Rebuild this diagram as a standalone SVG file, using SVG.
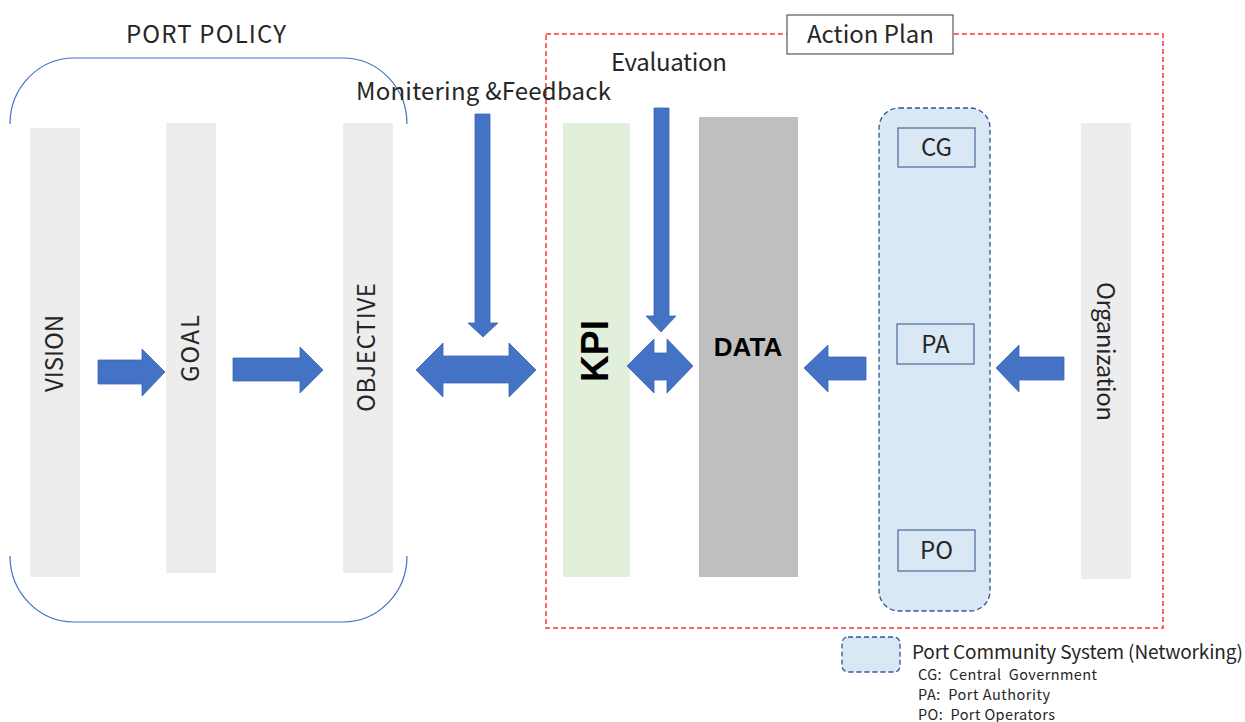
<svg xmlns="http://www.w3.org/2000/svg" width="1245" height="722" viewBox="0 0 1245 722">
<style>
text{font-family:"Noto Sans CJK JP","Noto Sans",sans-serif;fill:#262626}
.bar{fill:#EDEDED}
.lbl{font-size:24px}
.arr{fill:#4472C4;stroke:#3A66B5;stroke-width:0.8}
.box{fill:#DAE7F4;stroke:#4A6A9A;stroke-width:1.2}
.sm{font-size:14.5px;white-space:pre}
</style>
<rect width="1245" height="722" fill="#fff"/>
<g id="port-policy">
<path d="M10,124 A64,66 0 0 1 74,58 L343,58 A64,66 0 0 1 407,124" fill="none" stroke="#4472C4" stroke-width="1.2"/>
<path d="M10,556 A64,66 0 0 0 74,622 L343,622 A64,66 0 0 0 407,556" fill="none" stroke="#4472C4" stroke-width="1.2"/>
<text x="126" y="43" class="lbl" textLength="160" lengthAdjust="spacing">PORT POLICY</text>
</g>
<g id="action-plan">
<rect x="546" y="34" width="617" height="594" fill="none" stroke="#FF3333" stroke-width="1.5" stroke-dasharray="5,3"/>
<rect x="787" y="15" width="166" height="39" fill="#fff" stroke="#595959" stroke-width="1.2"/>
<text x="807" y="43" class="lbl" textLength="127" lengthAdjust="spacing">Action Plan</text>
</g>
<g id="vision"><rect class="bar" x="30" y="128" width="50" height="449"/><text class="lbl" transform="translate(63,392) rotate(-90)" textLength="77" lengthAdjust="spacing">VISION</text></g>
<g id="goal"><rect class="bar" x="166" y="123" width="50" height="450"/><text class="lbl" transform="translate(199,382) rotate(-90)" textLength="67" lengthAdjust="spacing">GOAL</text></g>
<g id="objective"><rect class="bar" x="343" y="123" width="50" height="450"/><text class="lbl" transform="translate(375,412) rotate(-90)" textLength="129" lengthAdjust="spacing">OBJECTIVE</text></g>
<g id="kpi"><rect x="563" y="123" width="67" height="454" fill="#E2EFDA"/><text transform="translate(608,382) rotate(-90)" textLength="62" lengthAdjust="spacingAndGlyphs" style="font-size:38px;font-weight:bold;fill:#000;font-family:'Liberation Sans',sans-serif">KPI</text></g>
<g id="data"><rect x="699" y="117" width="99" height="460" fill="#BFBFBF"/><text x="748" y="356" text-anchor="middle" style="font-size:26px;font-weight:bold;fill:#000;font-family:'Liberation Sans',sans-serif">DATA</text></g>
<g id="pcs">
<rect x="879" y="108" width="111" height="503" rx="20" ry="20" fill="#DAE7F4" stroke="#2F5597" stroke-width="1.3" stroke-dasharray="5,3"/>
<g id="cg"><rect class="box" x="898" y="128" width="77" height="39"/><text class="lbl" x="936.5" y="156" text-anchor="middle">CG</text></g>
<g id="pa"><rect class="box" x="897" y="324" width="77" height="40"/><text class="lbl" x="935.5" y="353" text-anchor="middle">PA</text></g>
<g id="po"><rect class="box" x="898" y="530" width="77" height="41"/><text class="lbl" x="936.5" y="559" text-anchor="middle">PO</text></g>
</g>
<g id="organization"><rect class="bar" x="1081" y="123" width="50" height="456"/><text class="lbl" transform="translate(1097,282) rotate(90)" textLength="139" lengthAdjust="spacing">Organization</text></g>
<g id="labels">
<text class="lbl" x="356" y="100" textLength="255" lengthAdjust="spacing">Monitering &amp;Feedback</text>
<text class="lbl" x="611" y="71" textLength="116" lengthAdjust="spacing">Evaluation</text>
</g>
<g id="connectors">
<polygon class="arr" points="98,360 142,360 142,349 165,372 142,396 142,384 98,384"/>
<polygon class="arr" points="233,358 300,358 300,347 323,370 300,393 300,381 233,381"/>
<polygon class="arr" points="416,370 443,343 443,356 509,356 509,343 536,370 509,397 509,383 443,383 443,397"/>
<polygon class="arr" points="475,114 490,114 490,323 498,323 483,337 468,323 475,323"/>
<polygon class="arr" points="654,108 669,108 669,316 676,316 661,332 646,316 654,316"/>
<polygon class="arr" points="627,366 654,339 654,353 667,353 667,339 693,366 667,393 667,380 654,380 654,393"/>
<polygon class="arr" points="804,368 828,345 828,357 866,357 866,380 828,380 828,392"/>
<polygon class="arr" points="996,368 1019,345 1019,357 1064,357 1064,380 1019,380 1019,392"/>
</g>
<g id="legend">
<rect x="842" y="637" width="58" height="35" rx="6" ry="6" fill="#DAE7F4" stroke="#2F5597" stroke-width="1.3" stroke-dasharray="5,3"/>
<text x="912" y="659" style="font-size:19px" textLength="331" lengthAdjust="spacing">Port Community System (Networking)</text>
<text class="sm" x="918" y="680" textLength="179" lengthAdjust="spacing">CG:  Central  Government</text>
<text class="sm" x="918" y="700" textLength="132" lengthAdjust="spacing">PA:  Port Authority</text>
<text class="sm" x="918" y="720" textLength="137" lengthAdjust="spacing">PO:  Port Operators</text>
</g>
</svg>
